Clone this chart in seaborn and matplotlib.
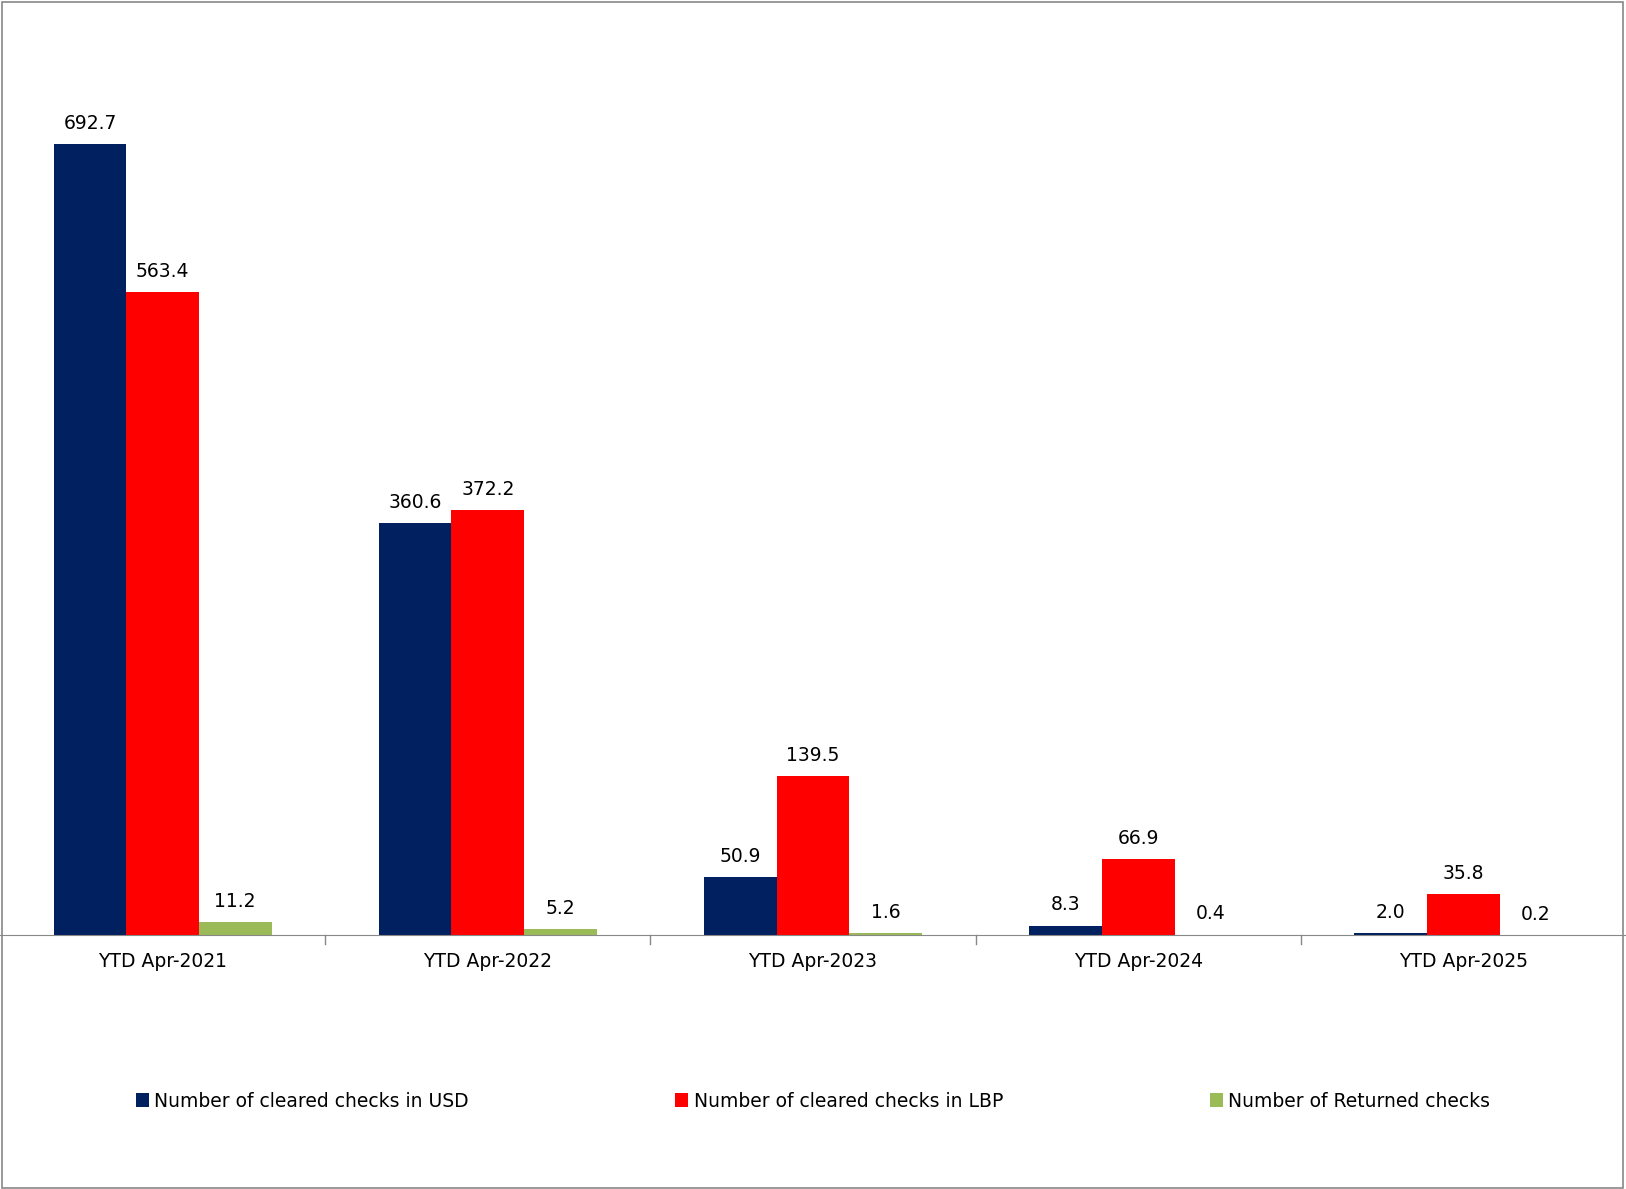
import matplotlib
matplotlib.use("Agg")
import matplotlib.pyplot as plt
import seaborn as sns
import pandas as pd
from matplotlib.patches import Rectangle

categories = ["YTD Apr-2021", "YTD Apr-2022", "YTD Apr-2023", "YTD Apr-2024", "YTD Apr-2025"]
series_names = ["Number of cleared checks in USD", "Number of cleared checks in LBP", "Number of Returned checks"]
usd = [692.7, 360.6, 50.9, 8.3, 2.0]
lbp = [563.4, 372.2, 139.5, 66.9, 35.8]
returned = [11.2, 5.2, 1.6, 0.4, 0.2]
colors = ["#002060", "#FF0000", "#9BBB59"]

rows = []
for name, vals in zip(series_names, [usd, lbp, returned]):
    for c, v in zip(categories, vals):
        rows.append({"cat": c, "series": name, "value": v})
df = pd.DataFrame(rows)

fig = plt.figure(figsize=(16.26, 11.89), dpi=100)
ax = fig.add_axes([0.0, 0.2136, 1.0, 0.77])
sns.barplot(data=df, x="cat", y="value", hue="series", palette=colors,
            width=0.67, saturation=1, ax=ax, legend=True)
ax.set_ylim(0, 802)
ax.set_xlim(-0.5, 4.5)
for cont in ax.containers:
    ax.bar_label(cont, fmt="%.1f", padding=8, fontsize=13.5)
for s in ["top", "left", "right"]:
    ax.spines[s].set_visible(False)
ax.spines["bottom"].set_color("#888888")
ax.set_yticks([])
ax.set_xlabel("")
ax.set_ylabel("")
ax.set_xticks(range(5))
ax.set_xticklabels(categories, fontsize=13.5)
ax.tick_params(axis="x", length=0, pad=12)
for xb in [0.5, 1.5, 2.5, 3.5]:
    ax.plot([xb, xb], [0, -8], color="#888888", lw=1, clip_on=False)
h, l = ax.get_legend_handles_labels()
ax.get_legend().remove()
fig.legend(h, l, loc="center", bbox_to_anchor=(0.5, 0.074), ncol=3, frameon=False,
           fontsize=13.5, handlelength=0.7, handleheight=0.7, columnspacing=11, handletextpad=0.3)
fig.patches.append(Rectangle((0.001, 0.001), 0.997, 0.997, transform=fig.transFigure,
                             fill=False, edgecolor="#888888", lw=1.2))
fig.savefig("out.png", dpi=100)
